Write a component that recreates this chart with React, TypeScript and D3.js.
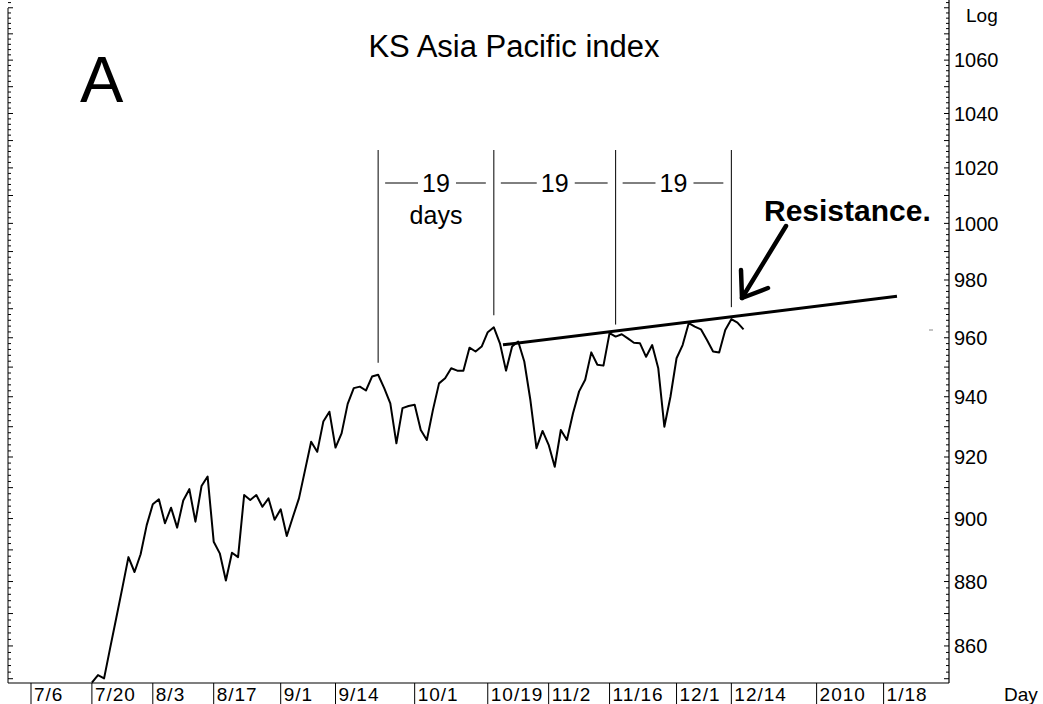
import React from "react";
import * as d3 from "d3";

// ---- data ----
const priceStartDay = 10; // trading-day index of first close (7/20)
const prices = [
  848.8, 851.1, 850.1, 859.4, 868.6, 878.0, 887.7, 883.0, 888.6, 897.9,
  904.6, 906.2, 898.5, 903.5, 897.1, 905.8, 909.5, 899.0, 910.5, 913.6,
  892.6, 888.9, 880.3, 889.1, 887.7, 907.6, 906.0, 907.6, 903.8, 906.5,
  899.6, 903.0, 894.4, 900.5, 906.5, 915.7, 925.0, 921.7, 931.7, 935.0,
  923.1, 927.8, 937.6, 942.9, 943.4, 942.1, 946.8, 947.4, 942.9, 937.8,
  924.5, 936.2, 936.9, 937.3, 928.9, 925.6, 935.6, 944.5, 946.2, 949.6,
  948.8, 948.8, 956.6, 955.3, 957.0, 961.9, 963.6, 958.1, 948.8, 957.0,
  958.7, 951.9, 938.9, 922.9, 928.6, 924.0, 916.8, 928.9, 925.6, 934.5,
  941.8, 945.7, 955.0, 950.8, 950.5, 961.6, 960.4, 961.2, 959.8, 958.3,
  958.1, 953.5, 957.5, 949.6, 930.0, 940.0, 953.0, 957.5, 965.0, 963.8,
  962.9, 959.2, 955.3, 955.0, 962.7, 966.4, 965.2, 962.9,
];

const dateLabels = ["7/6", "7/20", "8/3", "8/17", "9/1", "9/14", "10/1", "10/19", "11/2", "11/16", "12/1", "12/14", "2010", "1/18"];
const dateLabelDays = [0, 10, 20, 30, 41, 50, 63, 75, 85, 95, 106, 115, 129, 140];

const yTickValues = [860, 880, 900, 920, 940, 960, 980, 1000, 1020, 1040, 1060];

// cycle markers (trading-day index), 19 days apart
const cycleDays = [57, 76, 96, 115];
const cycleLabels = ["19", "19", "19"];

// resistance line endpoints [day, value]
const resistanceDays = [77.5, 142.2];
const resistanceValues = [957.6, 974.3];

const W = 1043;
const H = 704;
const FONT = "'Liberation Sans', Arial, sans-serif";

export default function App() {
  const xLeft = 8;
  const xRight = 949;
  const yBottom = 683;

  const x = d3.scaleLinear().domain([0, 140]).range([31, 883.6]);
  const y = d3.scaleLog().domain([848.7, 1083]).range([yBottom, 0]);

  const pts: [number, number][] = prices.map((v, i) => [i + priceStartDay, v]);
  const line = d3
    .line<[number, number]>()
    .x((d) => x(d[0]))
    .y((d) => y(d[1]));

  const minorTicks: number[] = [];
  for (let v = 850; v <= 1082; v += 2) minorTicks.push(v);

  const cycX = cycleDays.map((d) => x(d));
  const cycBottoms = cycleDays.map((d) => {
    const idx = d - priceStartDay;
    return y(prices[idx]) - 12;
  });

  return (
    <svg width={W} height={H} style={{ position: "absolute", left: 0, top: 0, background: "#fff" }}>
      <rect x={0} y={0} width={W} height={H} fill="#fff" />
      {/* left axis */}
      <line x1={xLeft} x2={xLeft} y1={8} y2={yBottom} stroke="#000" strokeWidth={1} />
      {minorTicks.map((v) => (
        <line key={"l" + v} x1={xLeft} x2={xLeft + (v % 10 === 0 ? 5 : 3)} y1={y(v)} y2={y(v)} stroke="#000" strokeWidth={1} />
      ))}
      {/* right axis */}
      <line x1={xRight} x2={xRight} y1={0} y2={yBottom} stroke="#000" strokeWidth={1.2} />
      {minorTicks.map((v) => (
        <line key={"r" + v} x1={xRight - (v % 10 === 0 ? 5 : 3)} x2={xRight} y1={y(v)} y2={y(v)} stroke="#000" strokeWidth={1} />
      ))}
      {yTickValues.map((v) => (
        <text key={"yt" + v} x={954} y={y(v)} dy="0.36em" fontFamily={FONT} fontSize={20} fill="#000">
          {v}
        </text>
      ))}
      <text x={966} y={22} fontFamily={FONT} fontSize={19} fill="#000">Log</text>

      {/* bottom axis */}
      <line x1={xLeft} x2={xRight} y1={yBottom} y2={yBottom} stroke="#000" strokeWidth={1.2} />
      {dateLabels.map((lab, i) => {
        const xx = x(dateLabelDays[i]);
        return (
          <g key={"dx" + i}>
            <line x1={xx} x2={xx} y1={yBottom} y2={H} stroke="#000" strokeWidth={1} />
            <text x={xx + 3} y={701} fontFamily={FONT} fontSize={19} letterSpacing={1} fill="#000">
              {lab}
            </text>
          </g>
        );
      })}
      <text x={1004} y={701} fontFamily={FONT} fontSize={19} fill="#000">Day</text>

      {/* title and label */}
      <text x={514} y={57} textAnchor="middle" fontFamily={FONT} fontSize={31} fill="#000">
        KS Asia Pacific index
      </text>
      <text x={80} y={102} fontFamily={FONT} fontSize={65} fill="#000">A</text>

      {/* price line */}
      <path d={line(pts) || ""} fill="none" stroke="#000" strokeWidth={2} strokeLinejoin="round" />

      {/* cycle vertical lines */}
      {cycX.map((cx, i) => (
        <line key={"cv" + i} x1={cx} x2={cx} y1={150} y2={cycBottoms[i]} stroke="#000" strokeWidth={1} />
      ))}
      {cycleLabels.map((lab, i) => {
        const mid = (cycX[i] + cycX[i + 1]) / 2;
        return (
          <g key={"cl" + i}>
            <line x1={cycX[i] + 7} x2={mid - 18} y1={183} y2={183} stroke="#000" strokeWidth={1} />
            <line x1={mid + 20} x2={cycX[i + 1] - 8} y1={183} y2={183} stroke="#000" strokeWidth={1} />
            <text x={mid} y={192} textAnchor="middle" fontFamily={FONT} fontSize={25} fill="#000">
              {lab}
            </text>
          </g>
        );
      })}
      <text x={(cycX[0] + cycX[1]) / 2} y={224} textAnchor="middle" fontFamily={FONT} fontSize={25} fill="#000">
        days
      </text>

      {/* resistance line */}
      <line
        x1={x(resistanceDays[0])}
        y1={y(resistanceValues[0])}
        x2={x(resistanceDays[1])}
        y2={y(resistanceValues[1])}
        stroke="#000"
        strokeWidth={3}
      />
      <text x={764} y={221} fontFamily={FONT} fontSize={30} fontWeight="bold" fill="#000">
        Resistance.
      </text>
      {/* arrow */}
      <path d="M786,226 L742,298" stroke="#000" strokeWidth={4.5} fill="none" strokeLinecap="round" />
      <path d="M741,270 L742,298 L768,288" stroke="#000" strokeWidth={4.5} fill="none" strokeLinecap="round" strokeLinejoin="round" />
      <line x1={929} x2={933} y1={330} y2={330} stroke="#888" strokeWidth={1} />
    </svg>
  );
}
